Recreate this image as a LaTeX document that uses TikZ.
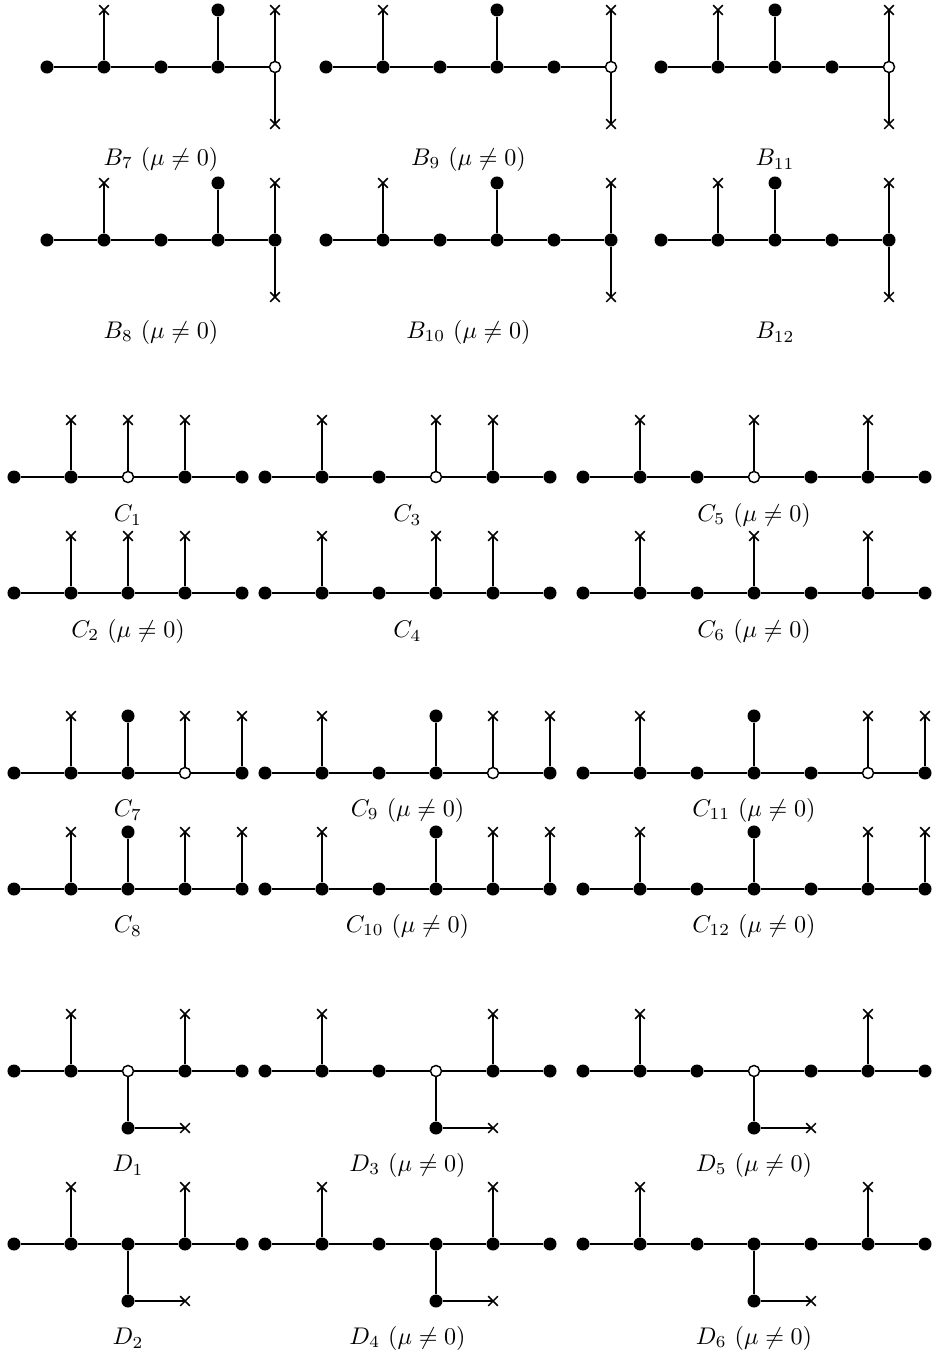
\documentclass[tikz,border=0pt]{standalone}
\usetikzlibrary{positioning,shapes.misc}

\begin{document}
\begin{tikzpicture}[
  x=0.415pt, y=-0.415pt,
  node distance=23.66pt, on grid,
  line width=0.6pt,
  dot/.style={circle, fill, inner sep=0pt, minimum size=5.4pt},
  hollow/.style={circle, draw, fill=white, inner sep=0pt, minimum size=4.6pt},
  cross/.style={cross out, draw, inner sep=0pt, minimum size=3.4pt}
]
\useasboundingbox (0,0) rectangle (931,1356);

% B_7, B_8
\foreach \nm/\y/\h/\txt in {b7/67/5/{$B_7$ $(\mu\neq0)$}, b8/240/0/{$B_8$ $(\mu\neq0)$}}{
  \foreach \i in {1,...,5}{
    \ifnum\i=\h \node[hollow] (\nm-\i) at ({47+57*(\i-1)},\y) {};
    \else \node[dot] (\nm-\i) at ({47+57*(\i-1)},\y) {}; \fi}
  \foreach \i [count=\j from 2] in {1,...,4} \draw (\nm-\i) -- (\nm-\j);
  \node[cross, above=of \nm-2] (\nm-a) {};
  \node[dot, above=of \nm-4] (\nm-b) {};
  \node[cross, above=of \nm-5] (\nm-c) {};
  \node[cross, below=of \nm-5] (\nm-d) {};
  \draw (\nm-2) -- (\nm-a.center) (\nm-4) -- (\nm-b) (\nm-c.center) -- (\nm-5) -- (\nm-d.center);
  \node (\nm-lab) at (161,\y+92) {\txt};
}

% B_9, B_10
\foreach \nm/\y/\h/\txt in {b9/67/6/{$B_9$ $(\mu\neq0)$}, b10/240/0/{$B_{10}$ $(\mu\neq0)$}}{
  \foreach \i in {1,...,6}{
    \ifnum\i=\h \node[hollow] (\nm-\i) at ({326+57*(\i-1)},\y) {};
    \else \node[dot] (\nm-\i) at ({326+57*(\i-1)},\y) {}; \fi}
  \foreach \i [count=\j from 2] in {1,...,5} \draw (\nm-\i) -- (\nm-\j);
  \node[cross, above=of \nm-2] (\nm-a) {};
  \node[dot, above=of \nm-4] (\nm-b) {};
  \node[cross, above=of \nm-6] (\nm-c) {};
  \node[cross, below=of \nm-6] (\nm-d) {};
  \draw (\nm-2) -- (\nm-a.center) (\nm-4) -- (\nm-b) (\nm-c.center) -- (\nm-6) -- (\nm-d.center);
  \node (\nm-lab) at (468.5,\y+92) {\txt};
}

% B_11, B_12
\foreach \nm/\y/\h/\txt in {b11/67/5/{$B_{11}$}, b12/240/0/{$B_{12}$}}{
  \foreach \i in {1,...,5}{
    \ifnum\i=\h \node[hollow] (\nm-\i) at ({661+57*(\i-1)},\y) {};
    \else \node[dot] (\nm-\i) at ({661+57*(\i-1)},\y) {}; \fi}
  \foreach \i [count=\j from 2] in {1,...,4} \draw (\nm-\i) -- (\nm-\j);
  \node[cross, above=of \nm-2] (\nm-a) {};
  \node[dot, above=of \nm-3] (\nm-b) {};
  \node[cross, above=of \nm-5] (\nm-c) {};
  \node[cross, below=of \nm-5] (\nm-d) {};
  \draw (\nm-2) -- (\nm-a.center) (\nm-3) -- (\nm-b) (\nm-c.center) -- (\nm-5) -- (\nm-d.center);
  \node (\nm-lab) at (775,\y+92) {\txt};
}

% C_1, C_2
\foreach \nm/\y/\h/\txt in {c1/477/3/{$C_1$}, c2/593/0/{$C_2$ $(\mu\neq0)$}}{
  \foreach \i in {1,...,5}{
    \ifnum\i=\h \node[hollow] (\nm-\i) at ({14+57*(\i-1)},\y) {};
    \else \node[dot] (\nm-\i) at ({14+57*(\i-1)},\y) {}; \fi}
  \foreach \i [count=\j from 2] in {1,...,4} \draw (\nm-\i) -- (\nm-\j);
  \foreach \k in {2,3,4}{
    \node[cross, above=of \nm-\k] (\nm-u\k) {};
    \draw (\nm-\k) -- (\nm-u\k.center);}
  \node (\nm-lab) at (128,\y+38) {\txt};
}

% C_3, C_4
\foreach \nm/\y/\h/\txt in {c3/477/4/{$C_3$}, c4/593/0/{$C_4$}}{
  \foreach \i in {1,...,6}{
    \ifnum\i=\h \node[hollow] (\nm-\i) at ({265+57*(\i-1)},\y) {};
    \else \node[dot] (\nm-\i) at ({265+57*(\i-1)},\y) {}; \fi}
  \foreach \i [count=\j from 2] in {1,...,5} \draw (\nm-\i) -- (\nm-\j);
  \foreach \k in {2,4,5}{
    \node[cross, above=of \nm-\k] (\nm-u\k) {};
    \draw (\nm-\k) -- (\nm-u\k.center);}
  \node (\nm-lab) at (407.5,\y+38) {\txt};
}

% C_5, C_6
\foreach \nm/\y/\h/\txt in {c5/477/4/{$C_5$ $(\mu\neq0)$}, c6/593/0/{$C_6$ $(\mu\neq0)$}}{
  \foreach \i in {1,...,7}{
    \ifnum\i=\h \node[hollow] (\nm-\i) at ({583+57*(\i-1)},\y) {};
    \else \node[dot] (\nm-\i) at ({583+57*(\i-1)},\y) {}; \fi}
  \foreach \i [count=\j from 2] in {1,...,6} \draw (\nm-\i) -- (\nm-\j);
  \foreach \k in {2,4,6}{
    \node[cross, above=of \nm-\k] (\nm-u\k) {};
    \draw (\nm-\k) -- (\nm-u\k.center);}
  \node (\nm-lab) at (754,\y+38) {\txt};
}

% C_7, C_8
\foreach \nm/\y/\h/\txt in {c7/773/4/{$C_7$}, c8/889/0/{$C_8$}}{
  \foreach \i in {1,...,5}{
    \ifnum\i=\h \node[hollow] (\nm-\i) at ({14+57*(\i-1)},\y) {};
    \else \node[dot] (\nm-\i) at ({14+57*(\i-1)},\y) {}; \fi}
  \foreach \i [count=\j from 2] in {1,...,4} \draw (\nm-\i) -- (\nm-\j);
  \foreach \k in {2,4,5}{
    \node[cross, above=of \nm-\k] (\nm-u\k) {};
    \draw (\nm-\k) -- (\nm-u\k.center);}
  \node[dot, above=of \nm-3] (\nm-b) {};
  \draw (\nm-3) -- (\nm-b);
  \node (\nm-lab) at (128,\y+37) {\txt};
}

% C_9, C_10
\foreach \nm/\y/\h/\txt in {c9/773/5/{$C_9$ $(\mu\neq0)$}, c10/889/0/{$C_{10}$ $(\mu\neq0)$}}{
  \foreach \i in {1,...,6}{
    \ifnum\i=\h \node[hollow] (\nm-\i) at ({265+57*(\i-1)},\y) {};
    \else \node[dot] (\nm-\i) at ({265+57*(\i-1)},\y) {}; \fi}
  \foreach \i [count=\j from 2] in {1,...,5} \draw (\nm-\i) -- (\nm-\j);
  \foreach \k in {2,5,6}{
    \node[cross, above=of \nm-\k] (\nm-u\k) {};
    \draw (\nm-\k) -- (\nm-u\k.center);}
  \node[dot, above=of \nm-4] (\nm-b) {};
  \draw (\nm-4) -- (\nm-b);
  \node (\nm-lab) at (407.5,\y+37) {\txt};
}

% C_11, C_12
\foreach \nm/\y/\h/\txt in {c11/773/6/{$C_{11}$ $(\mu\neq0)$}, c12/889/0/{$C_{12}$ $(\mu\neq0)$}}{
  \foreach \i in {1,...,7}{
    \ifnum\i=\h \node[hollow] (\nm-\i) at ({583+57*(\i-1)},\y) {};
    \else \node[dot] (\nm-\i) at ({583+57*(\i-1)},\y) {}; \fi}
  \foreach \i [count=\j from 2] in {1,...,6} \draw (\nm-\i) -- (\nm-\j);
  \foreach \k in {2,6,7}{
    \node[cross, above=of \nm-\k] (\nm-u\k) {};
    \draw (\nm-\k) -- (\nm-u\k.center);}
  \node[dot, above=of \nm-4] (\nm-b) {};
  \draw (\nm-4) -- (\nm-b);
  \node (\nm-lab) at (754,\y+37) {\txt};
}

% D_1, D_2
\foreach \nm/\y/\h/\txt in {d1/1071/3/{$D_1$}, d2/1244/0/{$D_2$}}{
  \foreach \i in {1,...,5}{
    \ifnum\i=\h \node[hollow] (\nm-\i) at ({14+57*(\i-1)},\y) {};
    \else \node[dot] (\nm-\i) at ({14+57*(\i-1)},\y) {}; \fi}
  \foreach \i [count=\j from 2] in {1,...,4} \draw (\nm-\i) -- (\nm-\j);
  \foreach \k in {2,4}{
    \node[cross, above=of \nm-\k] (\nm-u\k) {};
    \draw (\nm-\k) -- (\nm-u\k.center);}
  \node[dot, below=of \nm-3] (\nm-e) {};
  \node[cross, right=of \nm-e] (\nm-f) {};
  \draw (\nm-3) -- (\nm-e) -- (\nm-f.center);
  \node (\nm-lab) at (128,\y+94) {\txt};
}

% D_3, D_4
\foreach \nm/\y/\h/\txt in {d3/1071/4/{$D_3$ $(\mu\neq0)$}, d4/1244/0/{$D_4$ $(\mu\neq0)$}}{
  \foreach \i in {1,...,6}{
    \ifnum\i=\h \node[hollow] (\nm-\i) at ({265+57*(\i-1)},\y) {};
    \else \node[dot] (\nm-\i) at ({265+57*(\i-1)},\y) {}; \fi}
  \foreach \i [count=\j from 2] in {1,...,5} \draw (\nm-\i) -- (\nm-\j);
  \foreach \k in {2,5}{
    \node[cross, above=of \nm-\k] (\nm-u\k) {};
    \draw (\nm-\k) -- (\nm-u\k.center);}
  \node[dot, below=of \nm-4] (\nm-e) {};
  \node[cross, right=of \nm-e] (\nm-f) {};
  \draw (\nm-4) -- (\nm-e) -- (\nm-f.center);
  \node (\nm-lab) at (407.5,\y+94) {\txt};
}

% D_5, D_6
\foreach \nm/\y/\h/\txt in {d5/1071/4/{$D_5$ $(\mu\neq0)$}, d6/1244/0/{$D_6$ $(\mu\neq0)$}}{
  \foreach \i in {1,...,7}{
    \ifnum\i=\h \node[hollow] (\nm-\i) at ({583+57*(\i-1)},\y) {};
    \else \node[dot] (\nm-\i) at ({583+57*(\i-1)},\y) {}; \fi}
  \foreach \i [count=\j from 2] in {1,...,6} \draw (\nm-\i) -- (\nm-\j);
  \foreach \k in {2,6}{
    \node[cross, above=of \nm-\k] (\nm-u\k) {};
    \draw (\nm-\k) -- (\nm-u\k.center);}
  \node[dot, below=of \nm-4] (\nm-e) {};
  \node[cross, right=of \nm-e] (\nm-f) {};
  \draw (\nm-4) -- (\nm-e) -- (\nm-f.center);
  \node (\nm-lab) at (754,\y+94) {\txt};
}
\end{tikzpicture}
\end{document}
